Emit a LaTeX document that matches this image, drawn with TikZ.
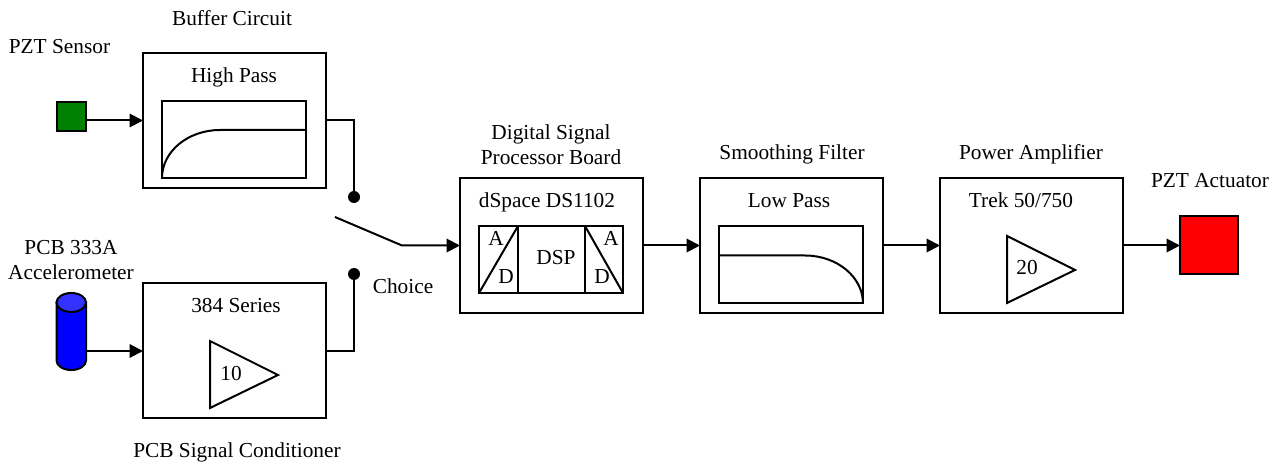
\documentclass[tikz,border=0pt]{standalone}
\usepackage{fontspec}
\setmainfont{Liberation Serif}
\usetikzlibrary{arrows.meta}
\tikzset{
  x=0.75pt,y=-0.75pt,
  every path/.style={line width=1.5pt,line join=miter},
  lab/.style={anchor=base,inner sep=0pt,outer sep=0pt,font=\fontsize{16}{19}\selectfont,text=black},
  blockbox/.style={draw,rectangle,inner sep=0pt,outer sep=0pt,minimum width=137.25pt,minimum height=101.25pt},
  plotbox/.style={draw,rectangle,inner sep=0pt,outer sep=0pt,minimum width=108pt,minimum height=57.75pt},
  sqr/.style={draw,rectangle,inner sep=0pt,outer sep=0pt},
  contact/.style={circle,fill=black,draw=none,inner sep=0pt,outer sep=0pt,minimum size=9pt},
  flow/.style={-{Triangle[length=10pt,width=10pt]}},
}
\definecolor{pztgreen}{HTML}{008000}
\definecolor{cylbody}{HTML}{0000FF}
\definecolor{cyltop}{HTML}{3333FF}
\begin{document}
\begin{tikzpicture}
\useasboundingbox (0,0) rectangle (1282,466);
% blocks
\node[blockbox] (buffer) at (234.5,120.5) {};
\node[plotbox] (hp) at (234,139.5) {};
\node[blockbox] (cond) at (234.5,351) {};
\node[blockbox] (dsp) at (551.5,245.5) {};
\node[plotbox,minimum height=50.25pt] (conv) at (551,259.5) {};
\node[blockbox] (lpbox) at (791.5,245.5) {};
\node[plotbox] (lp) at (791,265) {};
\node[blockbox] (amp) at (1031.5,245.5) {};
% sensors
\node[sqr,fill=pztgreen,minimum width=22pt,minimum height=22pt] (pzts) at (71.25,116.5) {};
\node[rectangle,inner sep=0pt,outer sep=0pt,minimum width=22pt,minimum height=57.75pt] (acc) at (71.25,331.5) {};
\draw[fill=cylbody] (56.5,302.5) -- (56.5,360.5) .. controls (56.5,365.8) and (63,370) .. (71.25,370) .. controls (79.5,370) and (86,365.8) .. (86,360.5) -- (86,302.5) -- cycle;
\draw[fill=cyltop] (71.25,302.5) ellipse [x radius=14.75,y radius=9.5];
\node[sqr,fill=red,minimum width=43.5pt,minimum height=43.5pt] (act) at (1209,245.5) {};
% switch
\node[contact] (c1) at (354,197) {};
\node[contact] (c2) at (354,274) {};
\coordinate (swa) at (335,217);
\coordinate (swb) at (402,245.5);
\coordinate (b1) at (354,120.5);
\coordinate (b2) at (354,351);
% connectors
\draw[flow] (pzts.east |- buffer.west) -- (buffer.west);
\draw[flow] (acc.east |- cond.west) -- (cond.west);
\draw (buffer.east) -- (b1) -- (c1);
\draw (cond.east) -- (b2) -- (c2);
\draw[flow] (swa) -- (swb) -- (swb -| dsp.west);
\draw[flow] (dsp.east) -- (lpbox.west);
\draw[flow] (lpbox.east) -- (amp.west);
\draw[flow] (amp.east) -- (act.west);
% plot curves
\draw (hp.south west) .. controls (162,151.5) and (188,130) .. (220,130) -- (hp.east |- 220,130);
\draw (lp.west |- 805,255.5) -- (805,255.5) .. controls (837,255.5) and (863,277) .. (lp.south east);
% converter
\draw (518,226) -- (518,293) (585,226) -- (585,293);
\draw (conv.south west) -- (518,226);
\draw (585,226) -- (conv.south east);
% amplifiers
\draw (210,341) -- (278,375) -- (210,408) -- cycle;
\draw (1007,236) -- (1075,270) -- (1007,303) -- cycle;
% labels
\node[lab] (t1) at (232,26) {Buffer Circuit};
\node[lab] (t2) at (59.5,54) {PZT Sensor};
\node[lab] (t3) at (234,83) {High Pass};
\node[lab] (t4) at (71,255) {PCB 333A};
\node[lab] (t5) at (71,280) {Accelerometer};
\node[lab] (t6) at (236,313) {384 Series};
\node[lab] (t7) at (231,381) {10};
\node[lab] (t8) at (237,458) {PCB Signal Conditioner};
\node[lab] (t9) at (403,294) {Choice};
\node[lab] (t10) at (551,140) {Digital Signal};
\node[lab] (t11) at (551,165) {Processor Board};
\node[lab] (t12) at (547,208) {dSpace DS1102};
\node[lab] (t13) at (496,246) {A};
\node[lab] (t14) at (506,284) {D};
\node[lab] (t15) at (556,265) {DSP};
\node[lab] (t16) at (611,246) {A};
\node[lab] (t17) at (602,284) {D};
\node[lab] (t18) at (792,160) {Smoothing Filter};
\node[lab] (t19) at (789,208) {Low Pass};
\node[lab] (t20) at (1031,160) {Power Amplifier};
\node[lab] (t21) at (1021,208) {Trek 50/750};
\node[lab] (t22) at (1027,275) {20};
\node[lab] (t23) at (1210,188) {PZT Actuator};
\end{tikzpicture}
\end{document}
